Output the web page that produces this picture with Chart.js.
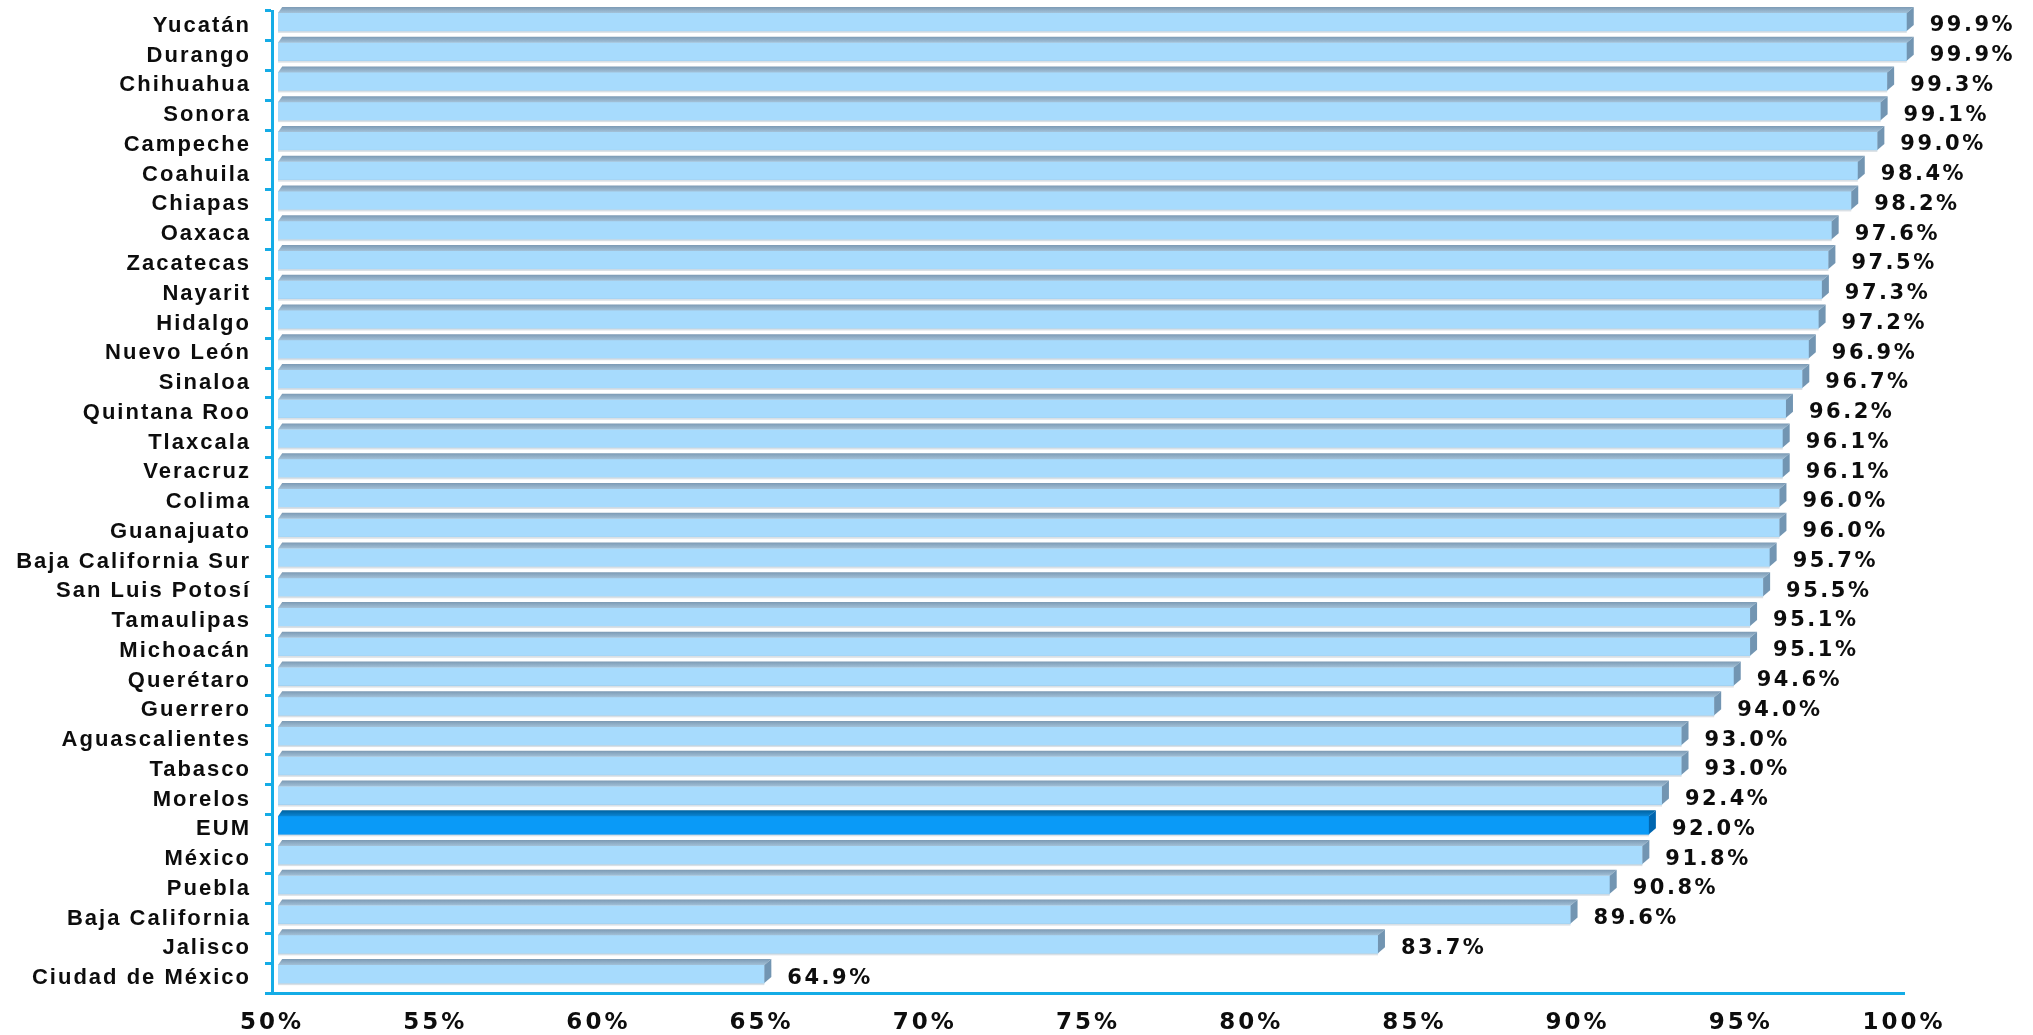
<!DOCTYPE html>
<html>
<head>
<meta charset="utf-8">
<title>Cobertura por entidad</title>
<script src="https://cdn.jsdelivr.net/npm/chart.js@4.4.1/dist/chart.umd.min.js"></script>
<style>
  body { margin:0; background:#fff; }
  #wrap { width:2033px; height:1035px; position:relative; }
</style>
</head>
<body>
<div id="wrap"><canvas id="coverage"></canvas></div>
<script>
var estados = ['Yucatán','Durango','Chihuahua','Sonora','Campeche','Coahuila','Chiapas','Oaxaca',
  'Zacatecas','Nayarit','Hidalgo','Nuevo León','Sinaloa','Quintana Roo','Tlaxcala','Veracruz',
  'Colima','Guanajuato','Baja California Sur','San Luis Potosí','Tamaulipas','Michoacán','Querétaro',
  'Guerrero','Aguascalientes','Tabasco','Morelos','EUM','México','Puebla','Baja California','Jalisco',
  'Ciudad de México'];
var porcentaje = [99.9,99.9,99.3,99.1,99.0,98.4,98.2,97.6,97.5,97.3,97.2,96.9,96.7,96.2,96.1,96.1,
  96.0,96.0,95.7,95.5,95.1,95.1,94.6,94.0,93.0,93.0,92.4,92.0,91.8,90.8,89.6,83.7,64.9];
var nacional = 'EUM';
var xMin = 50, xMax = 100, xStep = 5;

var AXIS = '#14ACE6';
var BAR_SHIFT_X = 6, BAR_SHIFT_Y = -4; // 3d projection offset
var DX = 7, DY = 6;

function frontColors(){
  var list = [];
  for(var i=0;i<estados.length;i++){
    list[i] = estados[i]==nacional ? '#0A9AF7' : '#A7DBFD';
  }
  return list;
}

// top and right faces of every bar, drawn from the bar elements
var bar3d = {
  id:'bar3d',
  beforeDatasetsDraw:function(chart){
    chart.ctx.save();
    chart.ctx.translate(BAR_SHIFT_X, BAR_SHIFT_Y);
  },
  afterDatasetsDraw:function(chart){
    var ctx = chart.ctx;
    var meta = chart.getDatasetMeta(0);
    var areaLeft = chart.chartArea.left;
    for(var i=0;i<meta.data.length;i++){
      var el = meta.data[i];
      var p = el.getProps(['x','y','base','height'], true);
      var top = p.y - p.height/2, bot = p.y + p.height/2;
      var left = Math.max(p.base, areaLeft), right = p.x;
      var isNat = estados[i]==nacional;
      // soft shadow under the front face
      ctx.fillStyle = 'rgba(150,165,180,0.35)';
      ctx.fillRect(left, bot, right-left, 2);
      // top face
      var g = ctx.createLinearGradient(0, top-DY, 0, top);
      g.addColorStop(0, isNat ? '#0062A0' : '#7C9AB4');
      g.addColorStop(1, isNat ? '#0A86D6' : '#A3C1D8');
      ctx.fillStyle = g;
      ctx.beginPath();
      ctx.moveTo(left, top);
      ctx.lineTo(left+DX*0.6, top-DY);
      ctx.lineTo(right+DX, top-DY);
      ctx.lineTo(right, top);
      ctx.closePath();
      ctx.fill();
      // side face
      ctx.fillStyle = isNat ? '#0066B0' : '#7295B2';
      ctx.beginPath();
      ctx.moveTo(right, top);
      ctx.lineTo(right+DX, top-DY);
      ctx.lineTo(right+DX, bot-DY);
      ctx.lineTo(right, bot);
      ctx.closePath();
      ctx.fill();
    }
    ctx.restore();

    // value labels
    var xs = chart.scales.x, ys = chart.scales.y;
    ctx.save();
    ctx.font = 'bold 21px "DejaVu Sans"';
    ctx.letterSpacing = '2.5px';
    ctx.fillStyle = '#0d0d0d';
    ctx.textAlign = 'left';
    ctx.textBaseline = 'middle';
    for(var j=0;j<porcentaje.length;j++){
      var px = xs.getPixelForValue(porcentaje[j]) + 29;
      var py = ys.getPixelForValue(j);
      ctx.fillText(porcentaje[j].toFixed(1)+'%', px, py);
    }
    ctx.restore();
  }
};

// wider letter spacing like the source picture
var spacing = {
  id:'spacing',
  beforeDraw:function(chart){
    chart.ctx.letterSpacing = '2px';
    var sx = chart.scales.x;
    if(!sx._spaced){
      var orig = sx.drawLabels;
      sx.drawLabels = function(area){
        var c = this.ctx;
        var old = c.letterSpacing;
        c.letterSpacing = '3px';
        orig.call(this, area);
        c.letterSpacing = old;
      };
      sx._spaced = true;
    }
  }
};

var data1 = {
  labels: estados,
  datasets: [{
    data: porcentaje,
    backgroundColor: frontColors(),
    borderWidth: 0,
    barThickness: 18
  }]
};

var options = {
  indexAxis: 'y',
  responsive: true,
  maintainAspectRatio: false,
  animation: false,
  layout: { padding: { top: 11, right: 129, left: 0, bottom: 0 } },
  plugins: { legend: { display:false }, tooltip: { enabled:false } },
  scales: {
    x: {
      min: xMin, max: xMax,
      grid: { display:false, drawTicks:false },
      border: { color: AXIS, width: 3 },
      ticks: {
        stepSize: xStep,
        padding: 16,
        color: '#0d0d0d',
        font: { family:'DejaVu Sans', size:23, weight:'bold' },
        callback: function(v){ return v + '%'; }
      },
      afterFit: function(s){ s.height = 42; }
    },
    y: {
      grid: { offset:true, drawOnChartArea:false, drawTicks:true, tickLength:7, color:AXIS, lineWidth:3 },
      border: { color: AXIS, width: 3 },
      ticks: {
        autoSkip: false,
        padding: 14,
        color: '#0d0d0d',
        font: { family:'Liberation Sans', size:22, weight:'bold' }
      },
      afterFit: function(s){
        s.width = 272;
        s.paddingTop = 0;
        s.paddingBottom = 0;
      }
    }
  }
};

var chart = new Chart(document.getElementById('coverage'), {
  type: 'bar',
  data: data1,
  options: options,
  plugins: [spacing, bar3d]
});
</script>
</body>
</html>
